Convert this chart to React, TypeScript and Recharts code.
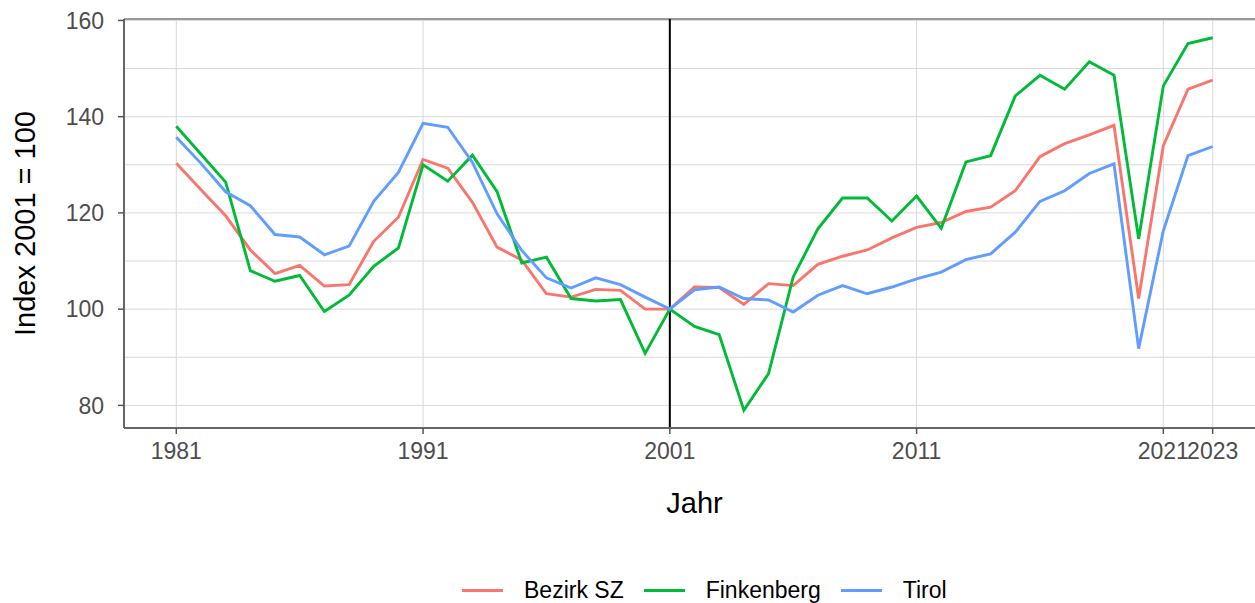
import React from 'react';
import { LineChart, Line, XAxis, YAxis, CartesianGrid, ReferenceLine, Legend } from 'recharts';

const years = [
  1981, 1982, 1983, 1984, 1985, 1986, 1987, 1988, 1989, 1990,
  1991, 1992, 1993, 1994, 1995, 1996, 1997, 1998, 1999, 2000,
  2001, 2002, 2003, 2004, 2005, 2006, 2007, 2008, 2009, 2010,
  2011, 2012, 2013, 2014, 2015, 2016, 2017, 2018, 2019, 2020,
  2021, 2022, 2023,
];

const bezirkSZ = [
  130.3, 124.8, 119.4, 112.3, 107.4, 109.1, 104.8, 105.1, 114.1, 119.1,
  131.1, 129.3, 122.2, 112.9, 110.2, 103.2, 102.5, 104.1, 103.9, 100.0,
  100.0, 104.6, 104.5, 101.0, 105.3, 104.9, 109.3, 111.0, 112.3, 114.8,
  117.0, 118.0, 120.3, 121.2, 124.6, 131.7, 134.4, 136.2, 138.2, 102.2,
  134.0, 145.7, 147.6,
];

const finkenberg = [
  138.0, 132.2, 126.4, 108.0, 105.8, 107.0, 99.5, 102.9, 108.9, 112.7,
  130.0, 126.6, 132.0, 124.4, 109.6, 110.8, 102.2, 101.7, 102.0, 90.8,
  100.0, 96.4, 94.7, 79.0, 86.6, 106.7, 116.7, 123.1, 123.1, 118.3,
  123.5, 116.8, 130.6, 131.9, 144.3, 148.6, 145.7, 151.4, 148.6, 114.6,
  146.4, 155.2, 156.4,
];

const tirol = [
  135.7, 130.3, 124.4, 121.5, 115.5, 115.0, 111.3, 113.1, 122.4, 128.4,
  138.6, 137.8, 130.5, 119.8, 112.2, 106.5, 104.4, 106.5, 105.1, 102.5,
  100.0, 104.0, 104.6, 102.2, 101.9, 99.4, 102.9, 104.9, 103.2, 104.6,
  106.3, 107.7, 110.3, 111.5, 116.0, 122.4, 124.6, 128.2, 130.2, 91.8,
  116.3, 131.9, 133.8,
];

const xTicks = [1981, 1991, 2001, 2011, 2021, 2023];
const yTicks = [80, 100, 120, 140, 160];
const yGrid = [80, 90, 100, 110, 120, 130, 140, 150, 160];

const seriesNames = ['Bezirk SZ', 'Finkenberg', 'Tirol'];
const seriesColors = ['#F8766D', '#00BA38', '#619CFF'];

const data = years.map((y, i) => ({
  year: y,
  'Bezirk SZ': bezirkSZ[i],
  Finkenberg: finkenberg[i],
  Tirol: tirol[i],
}));

const FONT = '"Liberation Sans", Arial, sans-serif';

const renderLegend = () => (
  <div style={{ display: 'flex', alignItems: 'center', fontFamily: FONT, fontSize: 23, color: '#000' }}>
    {seriesNames.map((n, i) => (
      <div key={n} style={{ display: 'flex', alignItems: 'center', marginRight: i < seriesNames.length - 1 ? 20 : 0 }}>
        <div style={{ width: 41, height: 3, background: seriesColors[i], marginRight: 21 }} />
        <span style={{ whiteSpace: 'nowrap' }}>{n}</span>
      </div>
    ))}
  </div>
);

const YTitle = (props: any) => {
  const vb = props.viewBox || { x: 0, y: 0, width: 0, height: 0 };
  const cx = vb.x + 35;
  const cy = vb.y + vb.height / 2;
  return (
    <text x={cx} y={cy} transform={`rotate(-90, ${cx}, ${cy})`} textAnchor="middle"
      fontFamily={FONT} fontSize={29} fill="#000">
      Index 2001 = 100
    </text>
  );
};

const XTitle = (props: any) => {
  const vb = props.viewBox || { x: 0, y: 0, width: 0, height: 0 };
  const cx = vb.x + vb.width / 2;
  return (
    <text x={cx} y={vb.y + 85} textAnchor="middle" fontFamily={FONT} fontSize={29} fill="#000">
      Jahr
    </text>
  );
};

export default function App() {
  return (
    <div style={{ position: 'absolute', left: 0, top: 0, width: 1255, height: 603, overflow: 'hidden', background: '#fff' }}>
      <LineChart width={1275} height={603} data={data} margin={{ top: 19, right: 10, left: 0, bottom: 0 }}>
        <CartesianGrid stroke="#d9d9d9" strokeWidth={1} horizontalValues={yGrid} verticalValues={xTicks} />
        <XAxis
          dataKey="year"
          type="number"
          domain={[1978.88, 2025.12]}
          ticks={xTicks}
          interval={0}
          height={175}
          tickSize={6}
          tickMargin={9}
          stroke="#666"
          strokeWidth={2}
          tick={{ fill: '#4D4D4D', fontSize: 23, fontFamily: FONT }}
          tickLine={{ stroke: '#555', strokeWidth: 1.5 }}
          allowDataOverflow
          label={<XTitle />}
        />
        <YAxis
          type="number"
          domain={[75.3, 160.3]}
          ticks={yTicks}
          interval={0}
          width={124}
          tickSize={6}
          tickMargin={14}
          stroke="#666"
          strokeWidth={2}
          tick={{ fill: '#4D4D4D', fontSize: 23, fontFamily: FONT }}
          tickLine={{ stroke: '#555', strokeWidth: 1.5 }}
          allowDataOverflow
          label={<YTitle />}
        />
        <ReferenceLine y={160.3} stroke="#999" strokeWidth={2} />
        <ReferenceLine x={2001} stroke="#000" strokeWidth={2} />
        {seriesNames.map((n, i) => (
          <Line key={n} type="linear" dataKey={n} stroke={seriesColors[i]} strokeWidth={2.9}
            dot={false} activeDot={false} isAnimationActive={false} />
        ))}
        <Legend
          layout="horizontal"
          verticalAlign="middle"
          align="center"
          content={renderLegend}
          wrapperStyle={{ top: 577, left: 462, width: 520, height: 30 }}
        />
      </LineChart>
    </div>
  );
}
